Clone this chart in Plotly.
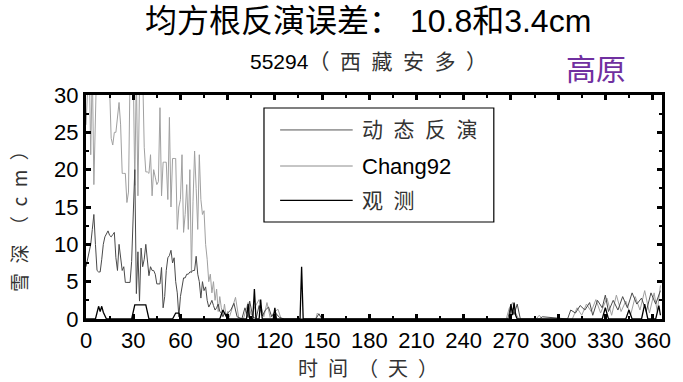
import plotly.graph_objects as go

# ---- data: snow depth (cm) at station 55294 ----
days_early = list(range(91))

dyn_early = [7, 8, 9, 10, 12, 14, 10, 6.5, 6.3, 6.3,
             8, 10, 11, 11.5, 11.8, 11.2, 11, 11.3, 11.6, 8.2,
             6.5, 10, 8.5, 6.5, 7, 4.9, 4.9, 4.9, 4.9, 7.7,
             13, 20, 3.4, 9, 2.4, 9.5, 7, 8, 10, 8,
             5.8, 7, 6.5, 6.5, 6, 4.7, 4.7, 4.7, 6.9, 1.5,
             3, 6.5, 8.2, 8.5, 9.2, 7.5, 8.2, 5, 3.5, 0.3,
             3, 4.5, 5.5, 5.5, 6, 6, 6.3, 6.3, 6.5, 6.5,
             8.4, 6, 5, 2.8, 5, 3.8, 4.3, 2.5, 1.6, 2,
             2.5, 1.8, 1.2, 1.5, 2, 1, 0.8, 0.3, 0.8, 0.5,
             0.8]

chg_early = [26, 33, 35, 22, 34, 18, 34, 36, 31, 33,
             35, 32, 36, 34, 33, 31, 24.2, 23.3, 25, 25,
             27, 29, 26, 19.5, 19.5, 19.5, 15.6, 17, 33, 36,
             34, 17.9, 33, 16.5, 31, 37, 33, 23, 19.7, 19.7,
             19.5, 22, 16.5, 20, 19, 18, 18.4, 28.3, 16.5, 21,
             21, 21, 16, 27, 15, 21.5, 21.5, 21.5, 12, 15,
             16, 22, 11.6, 14, 18, 12, 20, 6.2, 15.7, 22.5,
             17.5, 12, 22, 16, 14, 14.5, 10, 8, 5, 6,
             3.5, 5, 2.5, 4, 1, 3, 1.5, 0.5, 2, 0.3,
             1]

dyn_late_day = [92, 94, 96, 99, 101, 103, 104, 106, 108, 110,
                112, 114, 116, 118, 120, 123, 126, 146, 148, 150,
                268, 270, 272, 274, 276, 288, 290, 306, 308, 311,
                314, 317, 320, 322, 325, 328, 330, 332, 335, 338,
                341, 344, 347, 350, 353, 356, 359, 362, 365]
dyn_late_val = [1.2, 2.1, 0.3, 0, 1.5, 0.2, 2.4, 0.3, 0, 1.8,
                0.4, 1.2, 1.6, 0.3, 0.9, 0.2, 0, 0, 0.7, 0,
                0, 1.8, 0.6, 2.0, 0, 0, 0.3, 0, 1.2, 0.8,
                1.8, 1.2, 2.2, 0.5, 2.5, 1.5, 3.2, 1.0, 2.5, 1.2,
                3.0, 1.5, 3.5, 2.0, 2.8, 1.0, 3.5, 2.0, 3.8]

chg_late_day = [91, 93, 95, 97, 100, 103, 105, 107, 110, 113,
                115, 117, 120, 122, 124, 146, 147, 149, 151, 267,
                269, 271, 273, 275, 286, 288, 290, 309, 312, 315,
                318, 321, 324, 327, 331, 334, 337, 340, 343, 346,
                349, 352, 355, 358, 361, 363, 365]
chg_late_val = [0.2, 1.5, 2.9, 0.2, 0, 2.2, 0.5, 1.5, 2.6, 0.3,
                2.2, 0.2, 1.0, 1.3, 0, 0, 0.8, 0.3, 0, 0,
                1.5, 2.2, 0.8, 0, 0, 0.5, 0, 0, 1.5, 0.5,
                2.0, 1.0, 2.6, 0.8, 2.8, 0.5, 3.2, 1.0, 2.4, 0.5,
                3.0, 1.2, 3.8, 0.8, 3.5, 1.0, 4.5]

obs_day = [0, 6, 8, 9, 10, 11, 13, 29, 31, 33,
           38, 40, 55, 57, 59, 61, 85, 87, 89, 91,
           102, 103, 104, 106, 107, 108, 110, 111, 112, 119,
           120, 121, 136, 137, 138, 139, 269, 270, 271, 272,
           273, 274, 328, 330, 332, 343, 345, 347, 353, 355,
           357, 362, 364, 365]
obs_val = [0, 0, 1.7, 1.0, 1.7, 0.9, 0, 0, 1.9, 1.9,
           1.9, 0, 0, 0.8, 0.8, 0, 0, 1.2, 0.4, 0,
           0, 2.0, 0, 0, 4.0, 0, 0, 2.6, 0, 0,
           1.5, 0, 0, 7.0, 0, 0, 0, 2.0, 0.5, 2.2,
           0.5, 0, 0, 1.5, 0, 0, 1.2, 0, 0, 2.0,
           0, 0, 1.8, 0.5]

x_ticks = [0, 30, 60, 90, 120, 150, 180, 210, 240, 270, 300, 330, 360]
y_ticks = [0, 5, 10, 15, 20, 25, 30]

SP = "\u2002"  # en space between spaced-out CJK characters
series_names = [SP.join("动态反演"), "Chang92", SP.join("观测")]
series_colors = ["#4a4a4a", "#a0a0a0", "#000000"]
legend_line_colors = ["#555555", "#8c8c8c", "#000000"]
series_widths = [1, 1, 1.3]

LATIN = "Liberation Sans, Arial, sans-serif"
CJK = "Noto Sans CJK SC, sans-serif"

fig = go.Figure()
fig.add_trace(go.Scatter(x=days_early + chg_late_day, y=chg_early + chg_late_val,
                         mode="lines", name=series_names[1],
                         line=dict(color=series_colors[1], width=series_widths[1])))
fig.add_trace(go.Scatter(x=days_early + dyn_late_day, y=dyn_early + dyn_late_val,
                         mode="lines", name=series_names[0],
                         line=dict(color=series_colors[0], width=series_widths[0])))
fig.add_trace(go.Scatter(x=obs_day, y=obs_val, mode="lines", name=series_names[2],
                         line=dict(color=series_colors[2], width=series_widths[2])))

axis_common = dict(showline=True, linecolor="black", linewidth=3, mirror="allticks",
                   ticks="inside", ticklen=5, tickwidth=2.5, tickcolor="black",
                   showgrid=False, zeroline=False,
                   tickfont=dict(family=LATIN, size=22, color="black"))

fig.update_xaxes(range=[0, 366], tickvals=x_ticks,
                 minor=dict(ticks="inside", ticklen=3, tickwidth=2, dtick=15, tick0=0,
                            tickcolor="black"),
                 **axis_common)
fig.update_yaxes(range=[0, 30], tickvals=y_ticks,
                 minor=dict(ticks="inside", ticklen=3, tickwidth=2, dtick=2.5, tick0=0,
                            tickcolor="black"),
                 **axis_common)

# legend box drawn by hand so the sample lines are long
shapes = [dict(type="rect", xref="paper", yref="paper", x0=0.309, x1=0.708, y0=0.433, y1=0.942,
               line=dict(color="black", width=1.2), fillcolor="white", layer="above")]
annotations = []
rows_y = [0.844, 0.683, 0.530]
for name, lcolor, w, ry in zip(series_names, legend_line_colors, series_widths, rows_y):
    shapes.append(dict(type="line", xref="paper", yref="paper", x0=0.337, x1=0.463, y0=ry, y1=ry,
                       line=dict(color=lcolor, width=w)))
    annotations.append(dict(xref="paper", yref="paper", x=0.475, y=ry, xanchor="left", yanchor="middle",
                            text=name, showarrow=False,
                            font=dict(family=LATIN + ", " + CJK, size=22 if name == "Chang92" else 21,
                                      color="black" if name == "Chang92" else "#333333")))

annotations += [
    dict(xref="paper", yref="paper", x=0.49, y=1.33, text="均方根反演误差： 10.8和3.4cm",
         showarrow=False, xanchor="center", yanchor="middle",
         font=dict(family=LATIN + ", " + CJK, size=32, color="black")),
    dict(xref="paper", yref="paper", x=0.49, y=1.148,
         text="55294<span style='color:#333'>（" + SP + SP.join("西藏安多") + SP + "）</span>",
         showarrow=False, xanchor="center", yanchor="middle",
         font=dict(family=LATIN + ", " + CJK, size=21, color="black")),
    dict(xref="paper", yref="paper", x=0.885, y=1.125, text="高原",
         showarrow=False, xanchor="center", yanchor="middle",
         font=dict(family=CJK, size=30, color="#7030A0")),
    dict(xref="paper", yref="paper", x=0.49, y=-0.215,
         text=SP.join("时间") + SP + "（" + SP + "天" + SP + "）",
         showarrow=False, xanchor="center", yanchor="middle",
         font=dict(family=CJK, size=20, color="#333333")),
    dict(xref="paper", yref="paper", x=-0.117, y=0.458,
         text=SP.join("雪深") + SP + "（" + SP + "c" + SP + "m" + SP + "）",
         showarrow=False, xanchor="center", yanchor="middle", textangle=-90,
         font=dict(family=CJK, size=19, color="#333333")),
]

fig.update_layout(width=683, height=382, margin=dict(l=86, r=15, t=95, b=63),
                  paper_bgcolor="white", plot_bgcolor="white", showlegend=False,
                  shapes=shapes, annotations=annotations)

fig.write_html("out.html")
